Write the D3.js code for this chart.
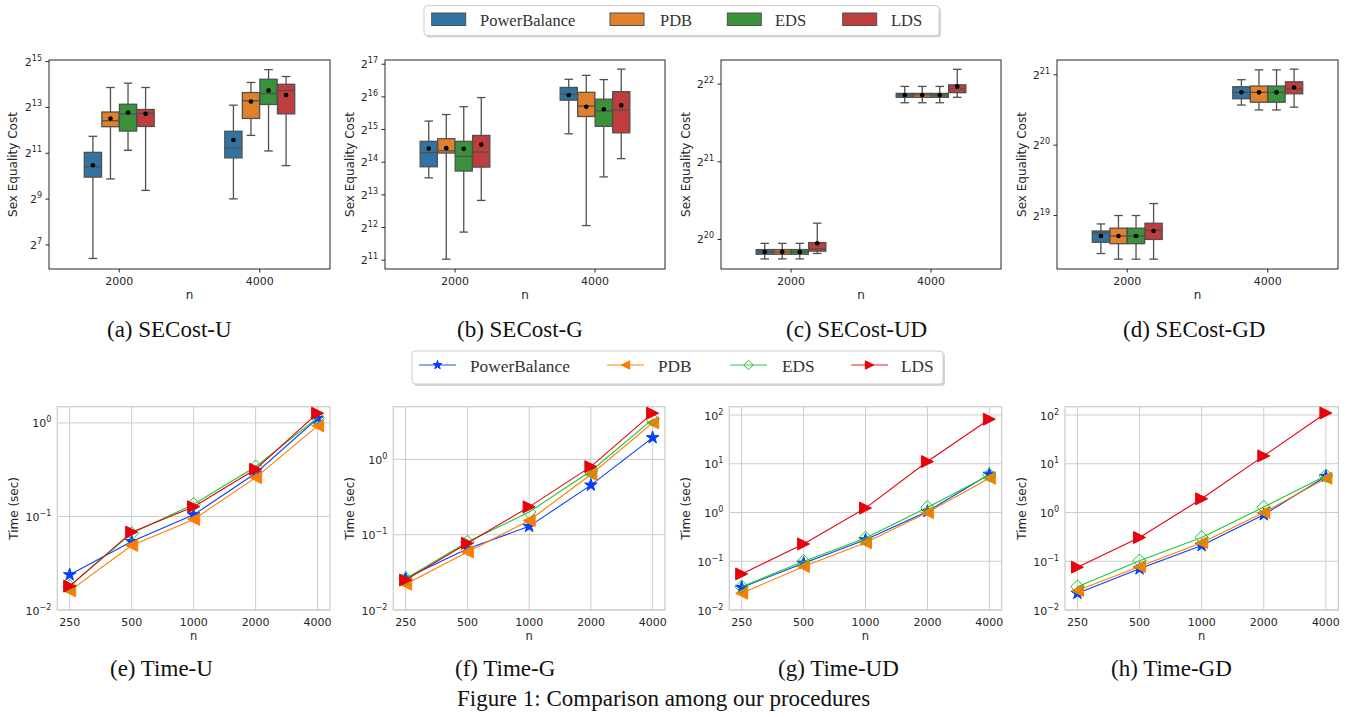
<!DOCTYPE html>
<html>
<head>
<meta charset="utf-8">
<script src="https://cdn.jsdelivr.net/npm/d3@7"></script>
<style>
    body { margin: 0; background: #fff; }
    svg { display: block; font-family: "DejaVu Sans", sans-serif; }
    .serif { font-family: "Liberation Serif", "Times New Roman", serif; }
</style>
</head>
<body>
<svg id="fig" width="1354" height="717"></svg>
<script>
// ******* DATA *******
const methods = ["PowerBalance", "PDB", "EDS", "LDS"];
const boxN = ["2000", "4000"];
const timeN = [250, 500, 1000, 2000, 4000];

// box stats in log2 units, one row per method:
// [whisker low, q1, median, q3, whisker high, mean]
const secostU = [
    [[6.41, 9.96, 10.41, 11.04, 11.74, 10.48],
     [9.88, 12.16, 12.42, 12.80, 13.87, 12.52],
     [11.13, 11.97, 12.71, 13.14, 14.06, 12.78],
     [9.38, 12.17, 12.75, 12.91, 13.87, 12.72]],
    [[9.01, 10.80, 11.23, 11.96, 13.10, 11.58],
     [11.78, 12.52, 13.29, 13.65, 14.09, 13.26],
     [11.10, 13.13, 13.61, 14.23, 14.65, 13.74],
     [10.46, 12.72, 13.74, 14.01, 14.35, 13.54]]
];
const secostG = [
    [[13.52, 13.86, 14.29, 14.64, 15.26, 14.42],
     [11.03, 14.28, 14.35, 14.72, 15.46, 14.43],
     [11.86, 13.73, 14.18, 14.64, 15.70, 14.41],
     [12.83, 13.85, 14.31, 14.82, 15.98, 14.54]],
    [[14.87, 15.90, 16.09, 16.29, 16.54, 16.05],
     [12.06, 15.40, 15.72, 16.14, 16.66, 15.70],
     [13.55, 15.10, 15.57, 15.93, 16.53, 15.62],
     [14.11, 14.90, 15.60, 16.16, 16.85, 15.74]]
];
const secostUD = [
    [[19.75, 19.81, 19.84, 19.87, 19.95, 19.84],
     [19.75, 19.81, 19.84, 19.87, 19.95, 19.84],
     [19.75, 19.81, 19.84, 19.87, 19.95, 19.84],
     [19.82, 19.85, 19.88, 19.96, 20.21, 19.95]],
    [[21.76, 21.83, 21.86, 21.88, 21.97, 21.86],
     [21.76, 21.83, 21.86, 21.88, 21.97, 21.86],
     [21.76, 21.83, 21.86, 21.88, 21.97, 21.86],
     [21.83, 21.89, 21.94, 21.99, 22.19, 21.97]]
];
const secostGD = [
    [[18.46, 18.62, 18.75, 18.78, 18.88, 18.71],
     [18.38, 18.60, 18.71, 18.82, 19.00, 18.71],
     [18.38, 18.60, 18.71, 18.82, 19.00, 18.71],
     [18.38, 18.66, 18.79, 18.89, 19.17, 18.78]],
    [[20.57, 20.66, 20.75, 20.83, 20.93, 20.75],
     [20.50, 20.61, 20.75, 20.84, 21.07, 20.75],
     [20.50, 20.61, 20.75, 20.84, 21.07, 20.75],
     [20.54, 20.73, 20.80, 20.90, 21.08, 20.82]]
];

// running times in seconds, one row per method, columns follow timeN
const timeU = [
    [0.0238, 0.054, 0.104, 0.29, 1.12],
    [0.016, 0.049, 0.093, 0.26, 0.93],
    [0.018, 0.066, 0.135, 0.34, 1.14],
    [0.018, 0.068, 0.127, 0.32, 1.27]
];
const timeG = [
    [0.0264, 0.065, 0.129, 0.455, 1.94],
    [0.022, 0.059, 0.154, 0.63, 3.05],
    [0.026, 0.080, 0.20, 0.70, 3.4],
    [0.025, 0.077, 0.234, 0.80, 4.1]
];
const timeUD = [
    [0.029, 0.091, 0.275, 1.05, 6.1],
    [0.022, 0.078, 0.24, 1.0, 5.06],
    [0.030, 0.099, 0.30, 1.27, 5.9],
    [0.055, 0.227, 1.23, 11.1, 82]
];
const timeGD = [
    [0.022, 0.070, 0.21, 0.90, 5.5],
    [0.025, 0.078, 0.24, 1.0, 5.06],
    [0.030, 0.102, 0.307, 1.29, 5.65],
    [0.0756, 0.307, 1.91, 14.5, 110]
];

// tick exponents
const secostTicks = [[7, 9, 11, 13, 15], [11, 12, 13, 14, 15, 16, 17], [20, 21, 22], [19, 20, 21]];
const timeTicks = [[-2, -1, 0], [-2, -1, 0], [-2, -1, 0, 1, 2], [-2, -1, 0, 1, 2]];

const boxColors = ["#3274a1", "#e1812c", "#3a923a", "#c03d3e"];
const lineColors = ["#023eff", "#ff7c00", "#1ac938", "#e8000b"];

// ******* LAYOUT *******
const svg = d3.select("#fig");
const INK = "#262626";
const BOX_TOP = 60, BOX_BOT = 269;
const LINE_TOP = 406.7, LINE_BOT = 610;

const boxPanels = [
    { data: secostU, ticks: secostTicks[0], lim: [5.95, 15.07], x0: 49, x1: 330, labX: 13, cap: "(a) SECost-U", capX: 107 },
    { data: secostG, ticks: secostTicks[1], lim: [10.73, 17.13], x0: 385, x1: 665, labX: 350, cap: "(b) SECost-G", capX: 457 },
    { data: secostUD, ticks: secostTicks[2], lim: [19.62, 22.31], x0: 721, x1: 1001, labX: 686, cap: "(c) SECost-UD", capX: 786 },
    { data: secostGD, ticks: secostTicks[3], lim: [18.24, 21.21], x0: 1057, x1: 1338, labX: 1022, cap: "(d) SECost-GD", capX: 1123 }
];
const linePanels = [
    { data: timeU, ticks: timeTicks[0], lim: [0.01, 1.49], x0: 57.3, x1: 330, labX: 14, cap: "(e) Time-U", capX: 110 },
    { data: timeG, ticks: timeTicks[1], lim: [0.01, 5.0], x0: 393.3, x1: 665, labX: 350, cap: "(f) Time-G", capX: 455 },
    { data: timeUD, ticks: timeTicks[2], lim: [0.01, 148], x0: 729.3, x1: 1001.7, labX: 686, cap: "(g) Time-UD", capX: 778 },
    { data: timeGD, ticks: timeTicks[3], lim: [0.01, 148], x0: 1065, x1: 1338.3, labX: 1022, cap: "(h) Time-GD", capX: 1111 }
];

// label with a superscript exponent
function powLabel(sel, base, exp, x, y) {
    const t = sel.append("text")
        .attr("x", x).attr("y", y)
        .attr("text-anchor", "end")
        .attr("font-size", 11)
        .attr("fill", INK);
    t.append("tspan").text(base);
    t.append("tspan").attr("dy", -5).attr("font-size", 8).text(exp);
    return t;
}

function yLabel(g, txt, x, y) {
    g.append("text")
        .attr("transform", `translate(${x},${y}) rotate(-90)`)
        .attr("text-anchor", "middle")
        .attr("dominant-baseline", "central")
        .attr("font-size", 12)
        .attr("fill", INK)
        .text(txt);
}

function caption(txt, x, y) {
    svg.append("text")
        .attr("class", "serif")
        .attr("x", x).attr("y", y)
        .attr("font-size", 23)
        .attr("fill", "#111")
        .text(txt);
}

// ******* BOX PANELS *******
boxPanels.forEach(p => {
    const g = svg.append("g");
    const x = d3.scaleLinear().domain([-0.5, 1.5]).range([p.x0, p.x1]);
    const y = d3.scaleLog().base(2).domain([2 ** p.lim[0], 2 ** p.lim[1]]).range([BOX_BOT, BOX_TOP]);
    const hue = d3.scaleBand().domain(methods).range([-0.25, 0.25]);
    const bw = x(hue.bandwidth()) - x(0);
    const boxW = bw * 0.98;
    const line = "#505050";

    p.data.forEach((group, gi) => {
        group.forEach((s, mi) => {
            const cx = x(gi + hue(methods[mi]) + hue.bandwidth() / 2);
            const [lo, q1, med, q3, hi, mean] = s.map(v => y(2 ** v));
            // whiskers
            g.append("line").attr("x1", cx).attr("x2", cx).attr("y1", lo).attr("y2", q1)
                .attr("stroke", line).attr("stroke-width", 1.3);
            g.append("line").attr("x1", cx).attr("x2", cx).attr("y1", q3).attr("y2", hi)
                .attr("stroke", line).attr("stroke-width", 1.3);
            [lo, hi].forEach(v => {
                g.append("line").attr("x1", cx - boxW / 4).attr("x2", cx + boxW / 4)
                    .attr("y1", v).attr("y2", v)
                    .attr("stroke", line).attr("stroke-width", 1.3);
            });
            // box
            g.append("rect")
                .attr("x", cx - boxW / 2).attr("width", boxW)
                .attr("y", q3).attr("height", Math.max(q1 - q3, 0.5))
                .attr("fill", boxColors[mi])
                .attr("stroke", line).attr("stroke-width", 1.3);
            g.append("line").attr("x1", cx - boxW / 2).attr("x2", cx + boxW / 2)
                .attr("y1", med).attr("y2", med)
                .attr("stroke", line).attr("stroke-width", 1.3);
            g.append("circle").attr("cx", cx).attr("cy", mean).attr("r", 2.3).attr("fill", "#000");
        });
    });

    // frame
    g.append("rect")
        .attr("x", p.x0).attr("y", BOX_TOP)
        .attr("width", p.x1 - p.x0).attr("height", BOX_BOT - BOX_TOP)
        .attr("fill", "none").attr("stroke", INK).attr("stroke-width", 1);

    // y ticks
    p.ticks.forEach(t => {
        const ty = y(2 ** t);
        g.append("line").attr("x1", p.x0 - 3.5).attr("x2", p.x0).attr("y1", ty).attr("y2", ty)
            .attr("stroke", INK);
        powLabel(g, "2", t, p.x0 - 7, ty + 4);
    });
    // x ticks
    boxN.forEach((n, i) => {
        const tx = x(i);
        g.append("line").attr("x1", tx).attr("x2", tx).attr("y1", BOX_BOT).attr("y2", BOX_BOT + 3.5)
            .attr("stroke", INK);
        g.append("text").attr("x", tx).attr("y", BOX_BOT + 15.5)
            .attr("text-anchor", "middle").attr("font-size", 11).attr("fill", INK).text(n);
    });
    g.append("text").attr("x", (p.x0 + p.x1) / 2).attr("y", 299)
        .attr("text-anchor", "middle").attr("font-size", 12).attr("fill", INK).text("n");
    yLabel(g, "Sex Equality Cost", p.labX, (BOX_TOP + BOX_BOT) / 2);
    caption(p.cap, p.capX, 336.5);
});

// ******* MARKERS *******
function markerPath(mi, s) {
    if (mi === 0) {
        const r = 6.6 * s;
        return d3.symbol().type(d3.symbolStar).size(r * r / 0.8908130915292852)();
    }
    const h = 6 * s;
    if (mi === 1) return `M${-h},0L${h},${-h}L${h},${h}Z`;
    if (mi === 3) return `M${h},0L${-h},${-h}L${-h},${h}Z`;
    const d = 6.8 * s;
    return `M0,${-d}L${d},0L0,${d}L${-d},0Z`;
}

function drawMarker(g, mi, cx, cy, s) {
    g.append("path")
        .attr("d", markerPath(mi, s))
        .attr("transform", `translate(${cx},${cy})`)
        .attr("fill", mi === 2 ? "none" : lineColors[mi])
        .attr("stroke", lineColors[mi])
        .attr("stroke-width", 1);
}

// ******* LINE PANELS *******
const supMinus = t => (t < 0 ? "\u2212" + (-t) : String(t));

linePanels.forEach(p => {
    const g = svg.append("g");
    const x = d3.scaleLog().base(2)
        .domain([timeN[0] / 2 ** 0.2, timeN[timeN.length - 1] * 2 ** 0.2])
        .range([p.x0, p.x1]);
    const y = d3.scaleLog().domain(p.lim).range([LINE_BOT, LINE_TOP]);
    const grid = "#cccccc";

    // grid
    timeN.forEach(n => {
        g.append("line").attr("x1", x(n)).attr("x2", x(n)).attr("y1", LINE_TOP).attr("y2", LINE_BOT)
            .attr("stroke", grid).attr("stroke-width", 1);
    });
    p.ticks.forEach(t => {
        const ty = y(10 ** t);
        g.append("line").attr("x1", p.x0).attr("x2", p.x1).attr("y1", ty).attr("y2", ty)
            .attr("stroke", grid).attr("stroke-width", 1);
        powLabel(g, "10", supMinus(t), p.x0 - 6, ty + 4.5);
    });
    g.append("rect")
        .attr("x", p.x0).attr("y", LINE_TOP)
        .attr("width", p.x1 - p.x0).attr("height", LINE_BOT - LINE_TOP)
        .attr("fill", "none").attr("stroke", grid).attr("stroke-width", 1.25);

    const lineGen = d3.line().x((d, i) => x(timeN[i])).y(d => y(d));
    p.data.forEach((row, mi) => {
        g.append("path").attr("d", lineGen(row))
            .attr("fill", "none").attr("stroke", lineColors[mi]).attr("stroke-width", 1.1);
        row.forEach((v, i) => drawMarker(g, mi, x(timeN[i]), y(v), 1));
    });

    timeN.forEach(n => {
        g.append("text").attr("x", x(n)).attr("y", LINE_BOT + 16)
            .attr("text-anchor", "middle").attr("font-size", 11).attr("fill", INK).text(n);
    });
    g.append("text").attr("x", (p.x0 + p.x1) / 2).attr("y", 640)
        .attr("text-anchor", "middle").attr("font-size", 11.5).attr("fill", INK).text("n");
    yLabel(g, "Time (sec)", p.labX, (LINE_TOP + LINE_BOT) / 2);
    caption(p.cap, p.capX, 676);
});

caption("Figure 1: Comparison among our procedures", 457, 706);

// ******* LEGENDS *******
function legendFrame(x0, y0, x1, y1) {
    svg.append("rect").attr("x", x0 + 2).attr("y", y0 + 2)
        .attr("width", x1 - x0).attr("height", y1 - y0).attr("rx", 3)
        .attr("fill", "#bbbbbb").attr("opacity", 0.6);
    svg.append("rect").attr("x", x0).attr("y", y0)
        .attr("width", x1 - x0).attr("height", y1 - y0).attr("rx", 3)
        .attr("fill", "#fff").attr("stroke", "#cccccc").attr("stroke-width", 1);
}

// box legend
legendFrame(424, 5.7, 939, 35.5);
const boxLegX = [431.7, 610, 727.3, 842.7];
const boxLegTextX = [480, 660, 775, 891];
methods.forEach((m, i) => {
    svg.append("rect").attr("x", boxLegX[i]).attr("y", 13).attr("width", 34).attr("height", 12.5)
        .attr("fill", boxColors[i]).attr("stroke", "#505050").attr("stroke-width", 1);
    svg.append("text").attr("class", "serif").attr("x", boxLegTextX[i]).attr("y", 25.5)
        .attr("font-size", 16.5).attr("fill", "#333").text(m);
});

// line legend
legendFrame(412, 351, 943, 384);
const lineLegX = [419, 607, 730, 851];
const lineLegTextX = [470, 658, 782, 901];
methods.forEach((m, i) => {
    svg.append("line").attr("x1", lineLegX[i]).attr("x2", lineLegX[i] + 37).attr("y1", 365).attr("y2", 365)
        .attr("stroke", lineColors[i]).attr("stroke-width", 1.5).attr("opacity", 0.6);
    drawMarker(svg, i, lineLegX[i] + 18.5, 365, 0.7);
    svg.append("text").attr("class", "serif").attr("x", lineLegTextX[i]).attr("y", 372)
        .attr("font-size", 17.3).attr("fill", "#333").text(m);
});
</script>
</body>
</html>
